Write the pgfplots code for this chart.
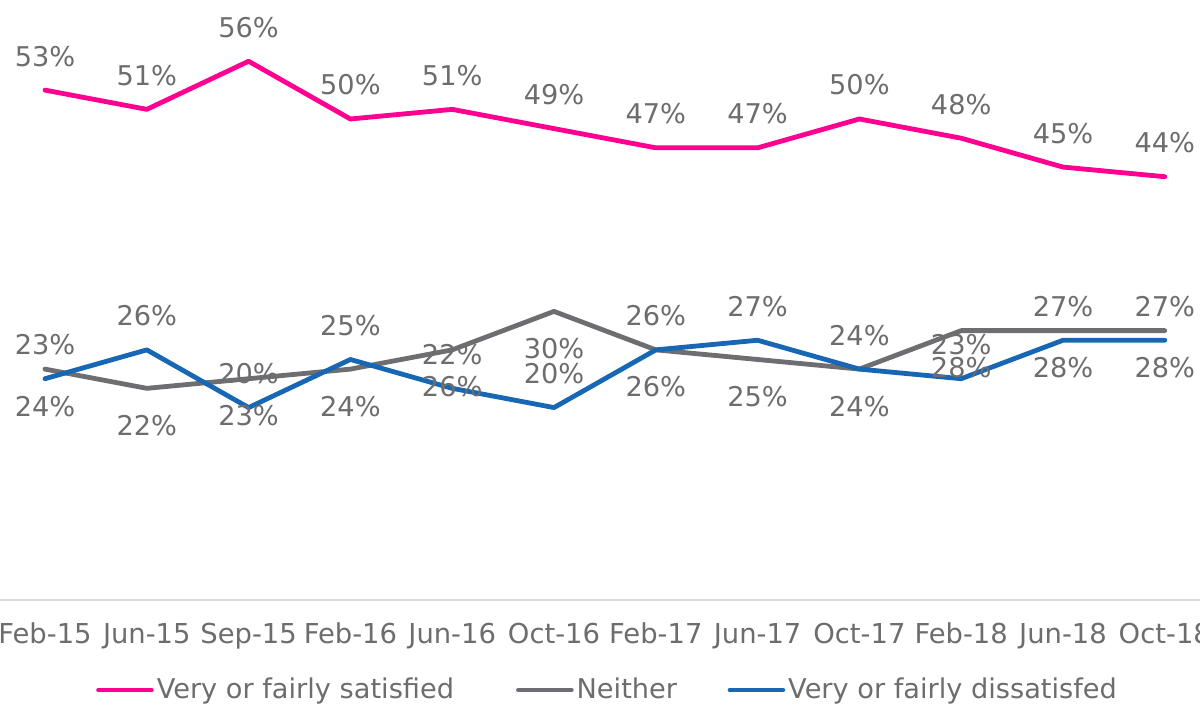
\documentclass[border=0pt]{standalone}
\usepackage{pgfplots}
\pgfplotsset{compat=1.18}
\usepackage{fontspec}
\setmainfont{DejaVu Sans}
\definecolor{cpink}{HTML}{FF0090}
\definecolor{cgray}{HTML}{6E6E72}
\definecolor{cblue}{HTML}{1767B4}
\definecolor{ctext}{HTML}{6D6D6D}
\definecolor{caxis}{HTML}{D9D9D9}
\begin{document}
\begin{tikzpicture}
\begin{axis}[
  anchor=origin, at={(0pt,0pt)},
  x=50.9pt, y=4.81pt,
  xmin=-0.5, xmax=11.5, ymin=0, ymax=60,
  clip=false,
  axis y line=none,
  axis x line*=bottom,
  x axis line style={draw=caxis, line width=1pt, -},
  major tick length=0pt,
  xtick={0,...,11},
  xticklabels={Feb-15,Jun-15,Sep-15,Feb-16,Jun-16,Oct-16,Feb-17,Jun-17,Oct-17,Feb-18,Jun-18,Oct-18},
  xticklabel style={anchor=base, yshift=-22pt, font=\fontsize{13.7}{15}\selectfont, text=ctext},
  point meta=explicit symbolic,
  every node near coord/.append style={font=\fontsize{13.6}{15}\selectfont, text=ctext, anchor=base},
  legend columns=3,
  legend style={draw=none, fill=none, at={(0.503,-0.156)}, anchor=center,
    font=\fontsize{13.6}{15}\selectfont, text=ctext,
    /tikz/every odd column/.append style={column sep=-0.5pt},
    /tikz/every even column/.append style={column sep=29pt}},
  legend image code/.code={\draw[#1, line width=2.3pt, line cap=round] (0pt,0pt) -- (26.5pt,0pt);},
]
\addplot[cpink, line width=2.4pt, line cap=round, line join=round, mark=none,
  nodes near coords, nodes near coords style={yshift=12pt}]
  coordinates {(0,53)[53\%] (1,51)[51\%] (2,56)[56\%] (3,50)[50\%] (4,51)[51\%] (5,49)[49\%] (6,47)[47\%] (7,47)[47\%] (8,50)[50\%] (9,48)[48\%] (10,45)[45\%] (11,44)[44\%]};
\addlegendentry{Very or fairly satisfied}
\addplot[cgray, line width=2.4pt, line cap=round, line join=round, mark=none,
  nodes near coords, nodes near coords style={yshift=-23.5pt}]
  coordinates {(0,24)[24\%] (1,22)[22\%] (2,23)[23\%] (3,24)[24\%] (4,26)[26\%] (5,30)[30\%] (6,26)[26\%] (7,25)[25\%] (8,24)[24\%] (9,28)[28\%] (10,28)[28\%] (11,28)[28\%]};
\addlegendentry{\makebox[44.5pt][l]{Neither}}
\addplot[cblue, line width=2.4pt, line cap=round, line join=round, mark=none,
  nodes near coords, nodes near coords style={yshift=12pt}]
  coordinates {(0,23)[23\%] (1,26)[26\%] (2,20)[20\%] (3,25)[25\%] (4,22)[22\%] (5,20)[20\%] (6,26)[26\%] (7,27)[27\%] (8,24)[24\%] (9,23)[23\%] (10,27)[27\%] (11,27)[27\%]};
\addlegendentry{Very or fairly dissatisfed}
\end{axis}
\pgfresetboundingbox
\path[use as bounding box] (-22.5pt,-52pt) rectangle (577.5pt,300pt);
\end{tikzpicture}
\end{document}
